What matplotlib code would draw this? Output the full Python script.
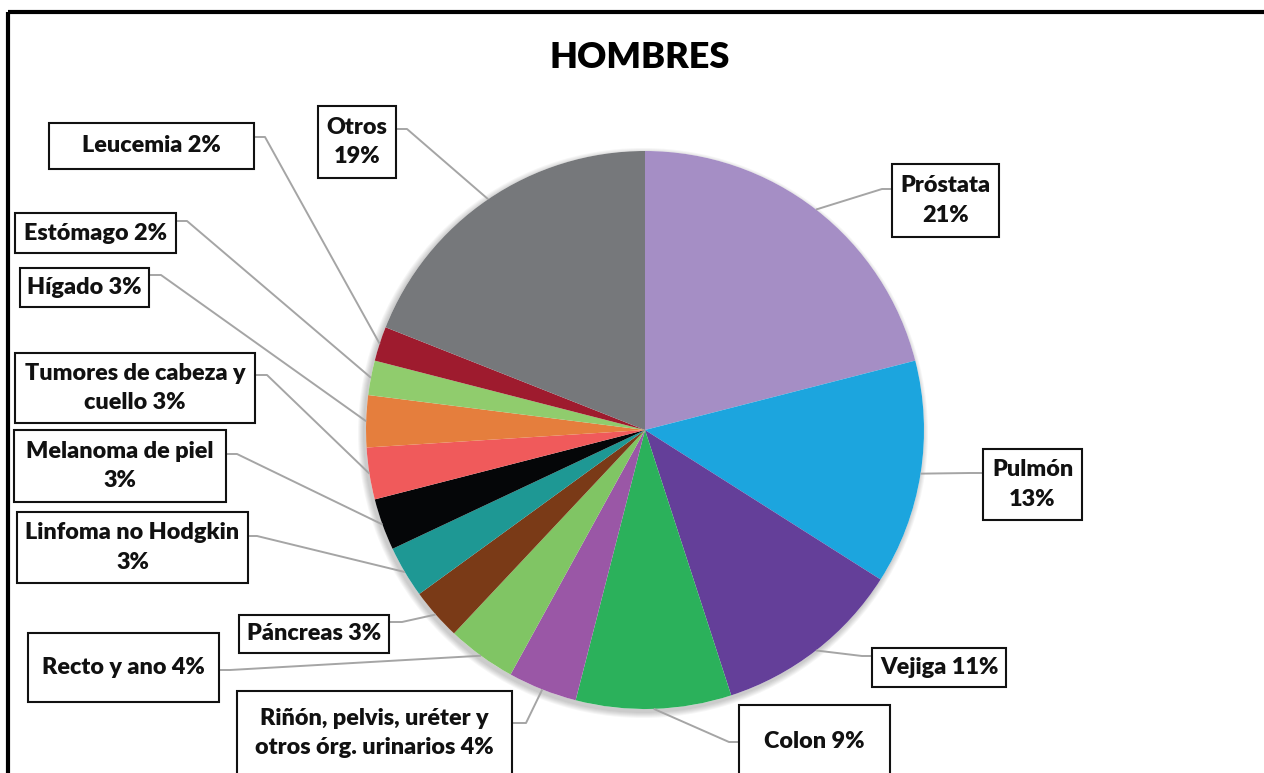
import numpy as np
import matplotlib

matplotlib.use("Agg")
import matplotlib.pyplot as plt  # noqa: E402
from matplotlib.patches import Rectangle, Circle  # noqa: E402

plt.rcParams["font.family"] = ["Lato", "DejaVu Sans"]

# ---- data (clockwise from 12 o'clock) ----
sites = ["Próstata", "Pulmón", "Vejiga", "Colon",
         "Riñón, pelvis, uréter y\notros órg. urinarios", "Recto y ano",
         "Páncreas", "Linfoma no Hodgkin", "Melanoma de piel",
         "Tumores de cabeza y\ncuello", "Hígado", "Estómago", "Leucemia",
         "Otros"]
pct = [21, 13, 11, 9, 4, 4, 3, 3, 3, 3, 3, 2, 2, 19]
colors = ["#a58ec5", "#1ca5de", "#643f99", "#2bb15b", "#9a57a6", "#80c564",
          "#7a3a17", "#1e9894", "#050608", "#f05a5b", "#e57e3d", "#90cc6d",
          "#9e1b2e", "#76787b"]
title = "HOMBRES"

# ---- layout, in pixels (y grows downward) ----
W, H = 1264, 773
CX, CY, R = 645, 430, 279
# separator between name and percentage
seps = ["\n", "\n", " ", " ", " ", " ", " ", "\n", "\n", " ", " ", " ", " ", "\n"]
# label box (x0, y0, x1, y1) and elbow point of the leader line
boxes = [(892, 164, 999, 237), (983, 449, 1082, 520), (872, 648, 1006, 687),
         (739, 705, 890, 779), (237, 691, 512, 775), (28, 633, 219, 702),
         (239, 615, 389, 653), (17, 512, 248, 583), (14, 430, 226, 502),
         (15, 353, 255, 423), (20, 268, 149, 307), (15, 213, 176, 253),
         (49, 123, 254, 169), (318, 106, 396, 178)]
elbows = [(882, 189), (970, 473), (862, 656), (729, 742), (526, 723),
          (230, 670), (402, 622), (257, 536), (237, 454), (267, 375),
          (161, 275), (187, 221), (265, 137), (407, 129)]

fig = plt.figure(figsize=(W / 100, H / 100), dpi=100)
ax = fig.add_axes([0, 0, 1, 1])

# soft shadow under the pie
for k in range(6):
    ax.add_patch(Circle((CX - 2, CY + 3), R + 1 + k, color="#000000",
                        alpha=0.035, lw=0, zorder=1))
ax.add_patch(Circle((CX, CY), R, color="white", lw=0, zorder=1.5))

# y axis is inverted, so counterclock in data space reads clockwise on screen
wedges, _ = ax.pie(pct, colors=colors, startangle=-90, counterclock=True,
                   center=(CX, CY), radius=R,
                   wedgeprops=dict(linewidth=0, zorder=2))

ax.set_xlim(0, W)
ax.set_ylim(H, 0)
ax.set_aspect("equal")
ax.axis("off")

# ---- labels and leader lines ----
cum = np.cumsum(pct) - np.array(pct) / 2
total = sum(pct)
for name, p, sep, (x0, y0, x1, y1), (ex, ey), c in zip(
        sites, pct, seps, boxes, elbows, cum):
    theta = np.deg2rad(-90 + 360 * c / total)
    px, py = CX + R * np.cos(theta), CY + R * np.sin(theta)
    attach = x1 if ex > x1 else x0
    ax.plot([attach, ex, px], [ey, ey, py], color="#a5a5a5", lw=1.4,
            solid_capstyle="butt", zorder=3)
    ax.add_patch(Rectangle((x0, y0), x1 - x0, y1 - y0, facecolor="white",
                           edgecolor="#111111", lw=1.5, zorder=4))
    ax.text((x0 + x1) / 2, (y0 + y1) / 2, f"{name}{sep}{p}%", ha="center",
            va="center", fontsize=16.8, fontweight=800, color="#111111",
            linespacing=1.5, zorder=5)

ax.text(640, 58, title, ha="center", va="center", fontsize=26,
        fontweight=800, color="#000000")

# outer frame (cropped on right and bottom)
ax.add_patch(Rectangle((8, 12), W + 20, H + 20, facecolor="none",
                       edgecolor="black", lw=3, zorder=6, clip_on=False))

fig.savefig("out.png", dpi=100)
